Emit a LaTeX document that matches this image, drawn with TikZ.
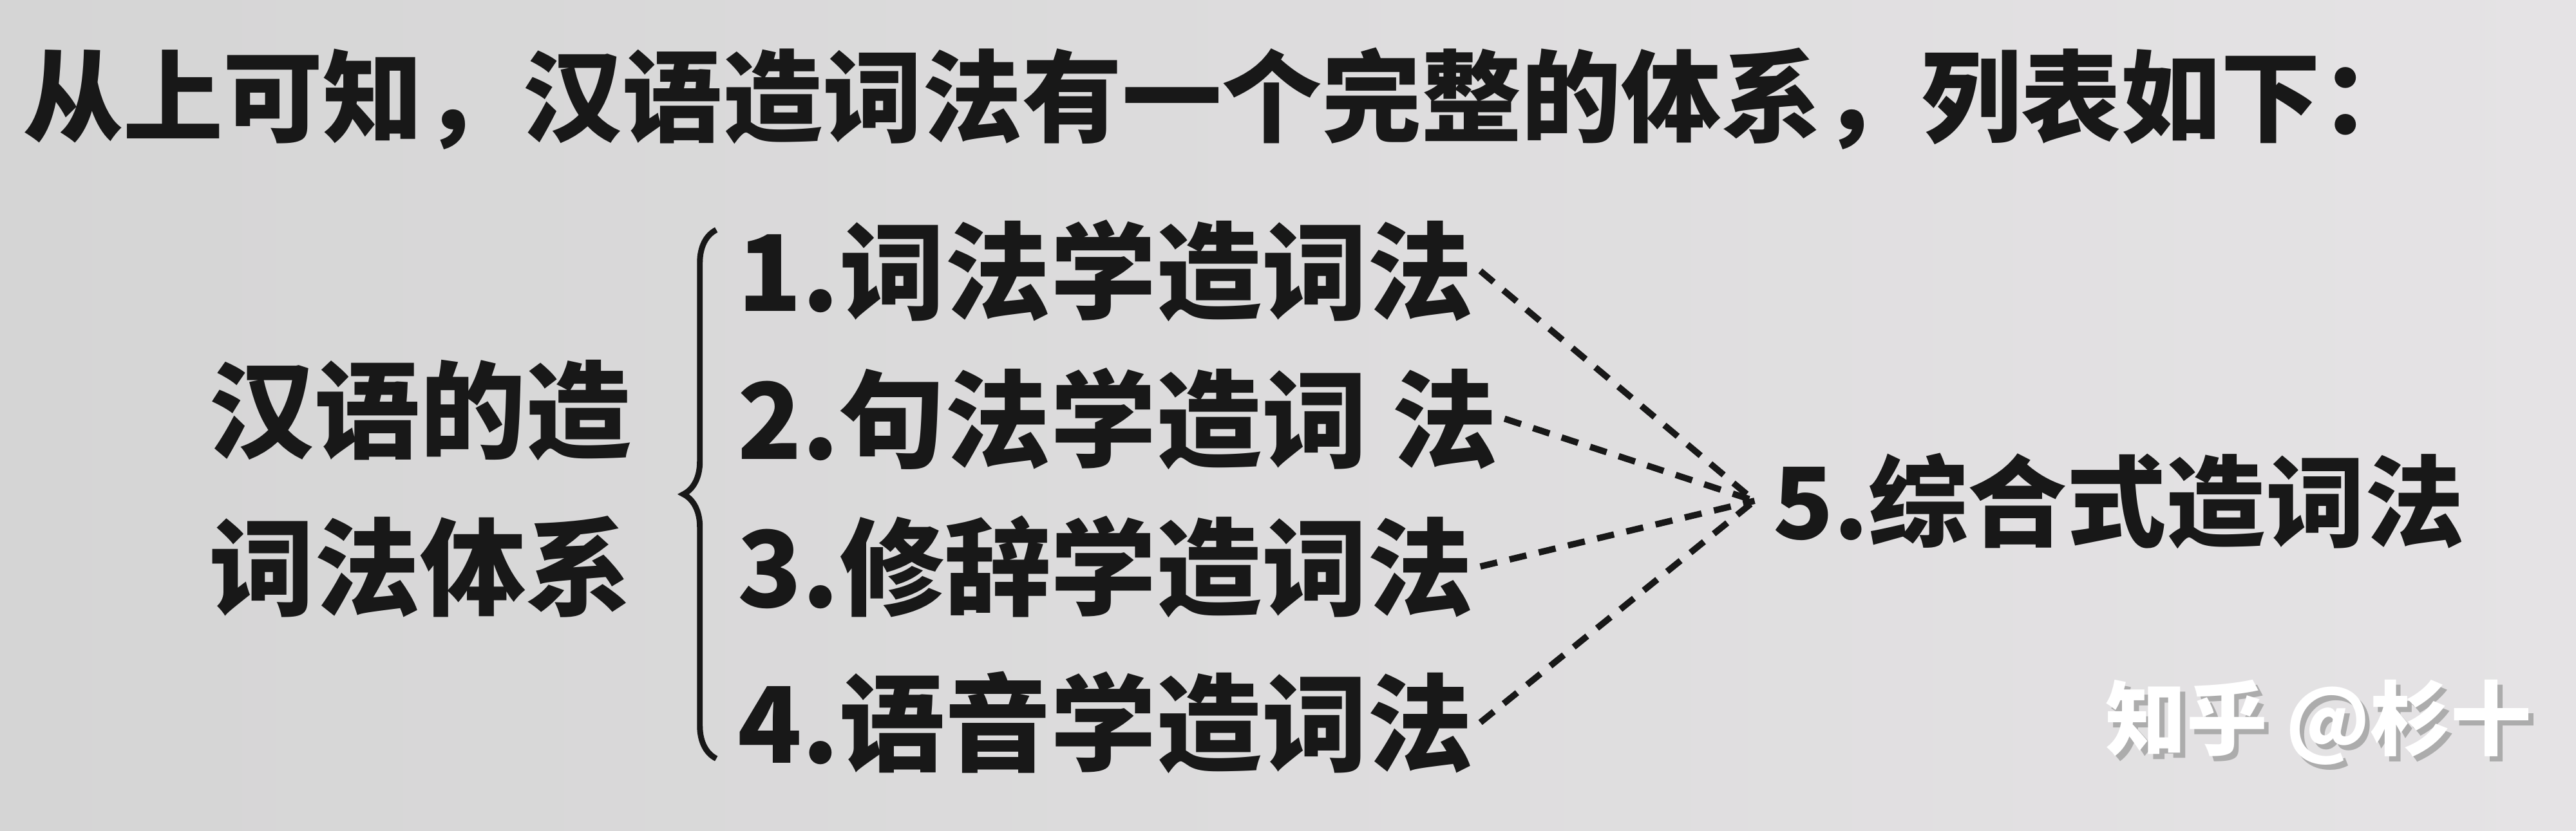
\documentclass[tikz,border=0pt]{standalone}
\usepackage{fontspec}
\newfontfamily\cjk{Noto Sans CJK SC}
\usetikzlibrary{decorations.pathreplacing}
\definecolor{ink}{HTML}{181818}
\definecolor{bgl}{HTML}{D5D5D5}
\definecolor{bgr}{HTML}{E5E3E5}

\begin{document}
\begin{tikzpicture}[x=0.1mm,y=-0.1mm,
    txt/.style={inner sep=1pt, text=ink, font=\cjk\bfseries\fontsize{18.3pt}{20pt}\selectfont},
    link/.style={draw=ink, line width=1.1pt, dash pattern=on 3pt off 2.2pt},
    wmark/.style={inner sep=0pt, font=\cjk\bfseries\fontsize{14pt}{16pt}\selectfont}]
    \fill[left color=bgl, right color=bgr] (0,0) rectangle (1568,506);
    \useasboundingbox (0,0) rectangle (1568,506);

    \node[txt, anchor=west, font=\cjk\bfseries\fontsize{17.3pt}{19pt}\selectfont] (head) at (10,60)
        {从上可知，汉语造词法有一个完整的体系，列表如下：};

    \node[txt, anchor=west] (sysa) at (123,250) {汉语的造};
    \node[txt, anchor=west] (sysb) at (123,345) {词法体系};

    \node[txt, anchor=west] (m1) at (445,165) {1.词法学造词法};
    \node[txt, anchor=west] (m2) at (445,255) {2.句法学造词 法};
    \node[txt, anchor=west] (m3) at (445,345) {3.修辞学造词法};
    \node[txt, anchor=west] (m4) at (445,440) {4.语音学造词法};
    \node[txt, anchor=west, inner sep=3pt, font=\cjk\bfseries\fontsize{17.2pt}{19pt}\selectfont] (m5) at (1068,305) {5.综合式造词法};

    \draw[draw=ink, line width=1pt, decorate, decoration={brace, amplitude=2mm}]
        (436,462) -- (436,140);

    \foreach \i in {1,...,4}
        \draw[link] (m\i.east) -- (m5.west);

    \node[wmark, anchor=west, text=gray!65] (zhs) at (1284,443) {知乎 @杉十};
    \node[wmark, anchor=west, text=white] (zh) at (1281,440) {知乎 @杉十};
\end{tikzpicture}
\end{document}
